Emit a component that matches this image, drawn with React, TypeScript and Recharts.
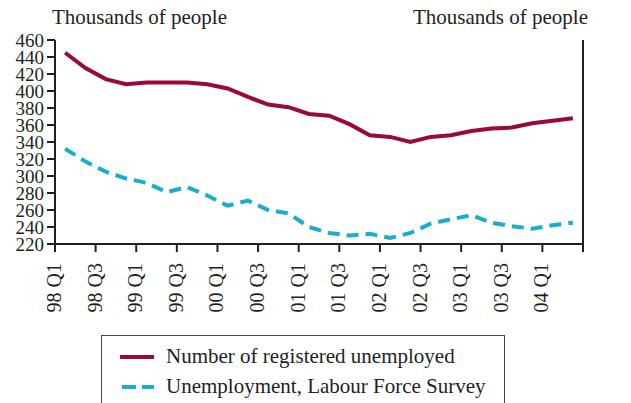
import { LineChart, Line, XAxis, YAxis } from 'recharts';

const quarters = [
  '98 Q1', '98 Q2', '98 Q3', '98 Q4',
  '99 Q1', '99 Q2', '99 Q3', '99 Q4',
  '00 Q1', '00 Q2', '00 Q3', '00 Q4',
  '01 Q1', '01 Q2', '01 Q3', '01 Q4',
  '02 Q1', '02 Q2', '02 Q3', '02 Q4',
  '03 Q1', '03 Q2', '03 Q3', '03 Q4',
  '04 Q1', '04 Q2',
];

// thousands of people
const registered = [
  445, 427, 414, 408, 410, 410, 410, 408, 403, 393, 384, 381, 373,
  371, 361, 348, 346, 340, 346, 348, 353, 356, 357, 362, 365, 368,
];
const lfs = [
  332, 317, 305, 297, 292, 281, 287, 277, 265, 271, 260, 256, 240,
  233, 230, 232, 227, 233, 244, 249, 254, 245, 241, 238, 242, 245,
];

const yTicks = [220, 240, 260, 280, 300, 320, 340, 360, 380, 400, 420, 440, 460];

const RED = '#990a36';
const BLUE = '#1badd0';
const INK = '#231f20';
const FONT = '"Liberation Serif", "Times New Roman", serif';

const data = quarters.map((q, i) => ({
  quarter: q,
  pos: i,
  registered: registered[i],
  lfs: lfs[i],
}));

// ticks sit on the boundary before every second quarter
const xTicks: number[] = [];
for (let i = 0; i <= quarters.length; i += 2) xTicks.push(i - 0.5);

function QuarterTick(props: any) {
  const { x, y, payload } = props;
  const label = quarters[payload.value + 0.5];
  if (!label) return null;
  return (
    <text
      x={x - 1}
      y={y}
      transform={`rotate(-90, ${x - 1}, ${y})`}
      textAnchor="end"
      dominantBaseline="central"
      fontFamily={FONT}
      fontSize={20}
      fill={INK}
    >
      {label}
    </text>
  );
}

export default function App() {
  const tickStyle = { fontFamily: FONT, fontSize: 19, fill: INK };
  return (
    <div style={{ position: 'absolute', left: 0, top: 0, width: 631, height: 403, background: '#fff' }}>
      <div style={{ position: 'absolute', left: 52, top: 5, fontFamily: FONT, fontSize: 21, color: INK }}>
        Thousands of people
      </div>
      <div style={{ position: 'absolute', left: 413, top: 5, fontFamily: FONT, fontSize: 21, color: INK }}>
        Thousands of people
      </div>
      <LineChart width={631} height={403} data={data} margin={{ top: 40, right: 0, left: 0, bottom: 0 }}>
        <XAxis
          dataKey="pos"
          type="number"
          domain={[-0.5, quarters.length - 0.5]}
          ticks={xTicks}
          interval={0}
          height={159}
          tickSize={8}
          tickMargin={11}
          tick={<QuarterTick />}
          axisLine={{ stroke: INK, strokeWidth: 2 }}
          tickLine={{ stroke: INK, strokeWidth: 2 }}
        />
        <YAxis
          yAxisId="left"
          orientation="left"
          domain={[220, 460]}
          ticks={yTicks}
          interval={0}
          width={55}
          tickSize={8}
          tickMargin={3}
          tick={tickStyle}
          axisLine={{ stroke: INK, strokeWidth: 2 }}
          tickLine={{ stroke: INK, strokeWidth: 2 }}
        />
        <YAxis
          yAxisId="right"
          orientation="right"
          domain={[220, 460]}
          ticks={yTicks}
          interval={0}
          width={48}
          tickSize={8}
          tickMargin={6}
          tick={{ ...tickStyle, textAnchor: 'start' }}
          axisLine={{ stroke: INK, strokeWidth: 2 }}
          tickLine={{ stroke: INK, strokeWidth: 2 }}
        />
        <Line
          yAxisId="left"
          type="linear"
          dataKey="registered"
          stroke={RED}
          strokeWidth={4}
          dot={false}
          isAnimationActive={false}
        />
        <Line
          yAxisId="left"
          type="linear"
          dataKey="lfs"
          stroke={BLUE}
          strokeWidth={4}
          strokeDasharray="12 7"
          dot={false}
          isAnimationActive={false}
        />
      </LineChart>
      <div
        style={{
          position: 'absolute',
          left: 101,
          top: 335,
          width: 402,
          height: 80,
          border: '1.5px solid #444',
          fontFamily: FONT,
          fontSize: 21,
          color: INK,
        }}
      >
        <div style={{ position: 'absolute', left: 18, top: 8, display: 'flex', alignItems: 'center', whiteSpace: 'nowrap' }}>
          <svg width={34} height={8} style={{ marginRight: 12 }}>
            <line x1={0} y1={4} x2={34} y2={4} stroke={RED} strokeWidth={4} />
          </svg>
          Number of registered unemployed
        </div>
        <div style={{ position: 'absolute', left: 18, top: 38, display: 'flex', alignItems: 'center', whiteSpace: 'nowrap' }}>
          <svg width={34} height={8} style={{ marginRight: 12 }}>
            <line x1={2} y1={4} x2={34} y2={4} stroke={BLUE} strokeWidth={4} strokeDasharray="14 6" />
          </svg>
          Unemployment, Labour Force Survey
        </div>
      </div>
    </div>
  );
}
